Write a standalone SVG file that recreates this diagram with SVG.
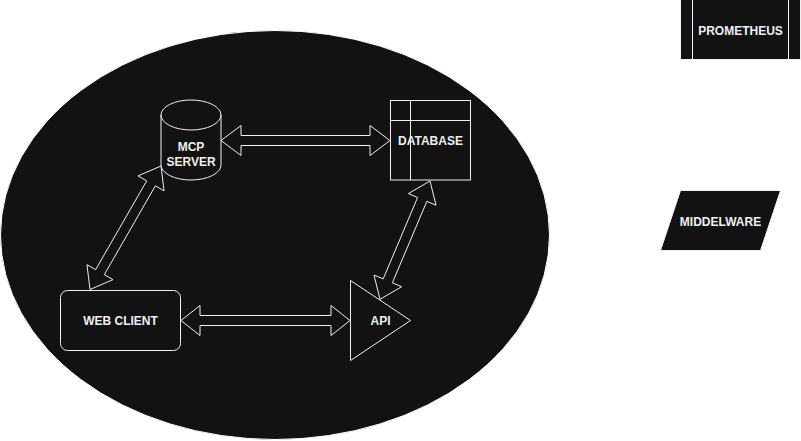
<svg xmlns="http://www.w3.org/2000/svg" width="801" height="441" viewBox="0 0 801 441">
<style>
.shape{fill:#121212;stroke:#f0f0f0;stroke-width:1}
.line{fill:none;stroke:#f0f0f0;stroke-width:1}
.arrow{fill:#121212;stroke:#f0f0f0;stroke-width:1;stroke-linejoin:miter}
.label{font-family:"Liberation Sans",Arial,sans-serif;font-size:12px;font-weight:bold;fill:#f0f0f0;text-anchor:middle}
</style>
<rect x="0" y="0" width="801" height="441" fill="#ffffff"/>
<g id="boundary">
<ellipse cx="275" cy="235" rx="274.5" ry="204.5" fill="#121212" stroke="#ffffff" stroke-width="1"/>
</g>
<g id="connectors">
<polygon class="arrow" points="221,140.5 241,125.5 241,135.5 370,135.5 370,125.5 390,140.5 370,155.5 370,145.5 241,145.5 241,155.5"/>
<polygon class="arrow" points="181,320.5 200,305.5 200,315.5 331,315.5 331,305.5 350,320.5 331,335.5 331,325.5 200,325.5 200,335.5"/>
<polygon class="arrow" points="161,166 164.04,190.82 155.37,185.83 104.3,274.65 112.97,279.64 90,289.5 86.96,264.68 95.63,269.67 146.7,180.85 138.02,175.86"/>
<polygon class="arrow" points="430,181 436.03,205.27 426.82,201.38 392.4,282.82 401.61,286.71 380,299.3 373.97,275.03 383.18,278.92 417.6,197.48 408.39,193.59"/>
</g>
<g id="mcp-server">
<path class="shape" d="M161,115 A30,15 0 0 1 221,115 L221,165 A30,15 0 0 1 161,165 Z"/>
<path class="line" d="M161,115 A30,15 0 0 0 221,115"/>
<text class="label" x="191" y="151">MCP</text>
<text class="label" x="191" y="165.5">SERVER</text>
</g>
<g id="database">
<rect class="shape" x="390.5" y="100.5" width="80" height="79.5"/>
<line class="line" x1="410.5" y1="100.5" x2="410.5" y2="180"/>
<line class="line" x1="390.5" y1="120.5" x2="470.5" y2="120.5"/>
<text class="label" x="430.5" y="144.5">DATABASE</text>
</g>
<g id="web-client">
<rect class="shape" x="60.5" y="290.5" width="120" height="60" rx="7" ry="7"/>
<text class="label" x="120.5" y="325">WEB CLIENT</text>
</g>
<g id="api">
<polygon class="shape" points="350.5,280.5 410.5,320.5 350.5,360.5"/>
<text class="label" x="380.5" y="325">API</text>
</g>
<g id="prometheus">
<rect class="shape" x="680.5" y="-0.5" width="120" height="60"/>
<line class="line" x1="692.5" y1="0" x2="692.5" y2="59.5"/>
<line class="line" x1="788.5" y1="0" x2="788.5" y2="59.5"/>
<text class="label" x="740.5" y="35">PROMETHEUS</text>
</g>
<g id="middleware">
<polygon class="shape" points="680.5,190.5 780.5,190.5 760.5,250.5 660.5,250.5" stroke="#ffffff"/>
<text class="label" x="720.5" y="225.5">MIDDELWARE</text>
</g>
</svg>
